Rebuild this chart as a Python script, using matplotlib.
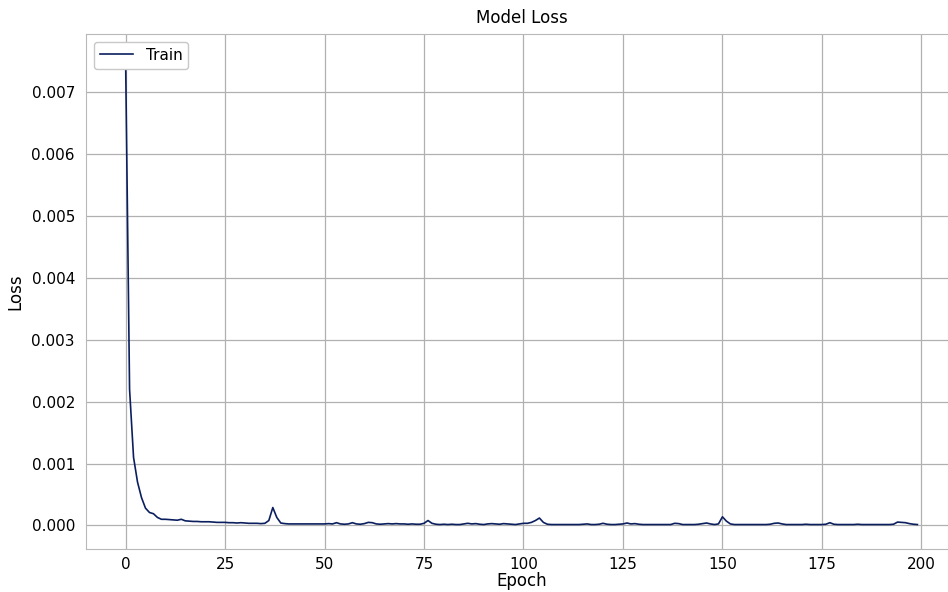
#!/usr/bin/env python3

import numpy as np
import matplotlib
matplotlib.use("Agg")
import matplotlib.pyplot as plt

# training loss per epoch (units of 1e-5)
loss_e5 = [
    756, 220, 110, 70, 45, 28, 21, 19, 13, 10,
    10, 9.5, 9, 8.5, 10, 7.5, 7, 6.5, 6.5, 6,
    6, 6, 5.5, 5, 5, 5, 4.5, 4.5, 4, 4.5,
    4, 3.5, 3.5, 3.5, 3, 3.5, 8, 29, 13, 4,
    3, 2.5, 2.5, 2.5, 2.5, 2.5, 2.5, 2.5, 2.5, 2.5,
    2.5, 3, 2.5, 4.5, 2.5, 2, 2.5, 4.5, 2.5, 2,
    3, 5, 4.5, 2.5, 2, 2.5, 3, 2.5, 3, 2.5,
    2.5, 2, 2.5, 2, 2, 3.5, 8, 3.5, 2, 1.5,
    2, 1.5, 2, 1.5, 1.5, 2.5, 3.5, 2.5, 3, 2,
    1.5, 2.5, 3, 2.5, 2, 3, 2.5, 2, 1.5, 2.5,
    3.5, 3.5, 5, 8, 12, 5, 2, 1.5, 1.5, 1.5,
    1.5, 1.5, 1.5, 1.5, 1.5, 2, 2.5, 1.5, 1.5, 2,
    3.5, 2, 1.5, 1.5, 2, 2.5, 4, 2.5, 3, 2,
    1.5, 1.5, 1.5, 1.5, 1.5, 1.5, 1.5, 1.5, 3.5, 3,
    1.5, 1.5, 1.5, 1.5, 2, 3, 4, 2.5, 1.5, 2.5,
    14, 7, 2.5, 1.5, 1.5, 1.5, 1.5, 1.5, 1.5, 1.5,
    1.5, 1.5, 2, 3.5, 4, 2.5, 1.5, 1.5, 1.5, 1.5,
    1.5, 2, 1.5, 1.5, 1.5, 1.5, 2, 4.5, 2, 1.5,
    1.5, 1.5, 1.5, 1.5, 2, 1.5, 1.5, 1.5, 1.5, 1.5,
    1.5, 1.5, 1.5, 2, 5.5, 5, 4.5, 3, 2, 1.5,
]
train_loss = np.array(loss_e5) * 1e-5
epochs = np.arange(len(train_loss))

if __name__ == "__main__":
    fig = plt.figure(figsize=(9.48, 5.92), dpi=100)
    # axes runs a little past the right edge, like the cropped original
    ax = fig.add_axes([86 / 948, 1 - 549 / 592, 871 / 948, 515 / 592])

    ax.plot(epochs, train_loss, color="#0b1f5e", lw=1.2, label="Train")

    ax.set_xlim(-9.95, 208.95)
    ax.set_ylim(-0.00038, 0.00794)
    ax.set_xticks([0, 25, 50, 75, 100, 125, 150, 175, 200])
    ax.set_yticks([0, 0.001, 0.002, 0.003, 0.004, 0.005, 0.006, 0.007])
    ax.yaxis.set_major_formatter(matplotlib.ticker.FormatStrFormatter("%.3f"))

    ax.grid(True, color="#b0b0b0", lw=0.9)
    ax.set_axisbelow(True)
    for s in ax.spines.values():
        s.set_color("#b8b8b8")
    ax.tick_params(length=0, pad=8, labelsize=11)
    ax.tick_params(axis="x", pad=6)

    ax.set_title("Model Loss", fontsize=12, pad=8)
    ax.set_xlabel("Epoch", fontsize=12, labelpad=0)
    ax.set_ylabel("Loss", fontsize=12, labelpad=5)
    leg = ax.legend(loc="upper left", fontsize=11, fancybox=True,
                    edgecolor="#c8c8c8", framealpha=1.0, handlelength=2.2)

    fig.savefig("out.png", dpi=100)
